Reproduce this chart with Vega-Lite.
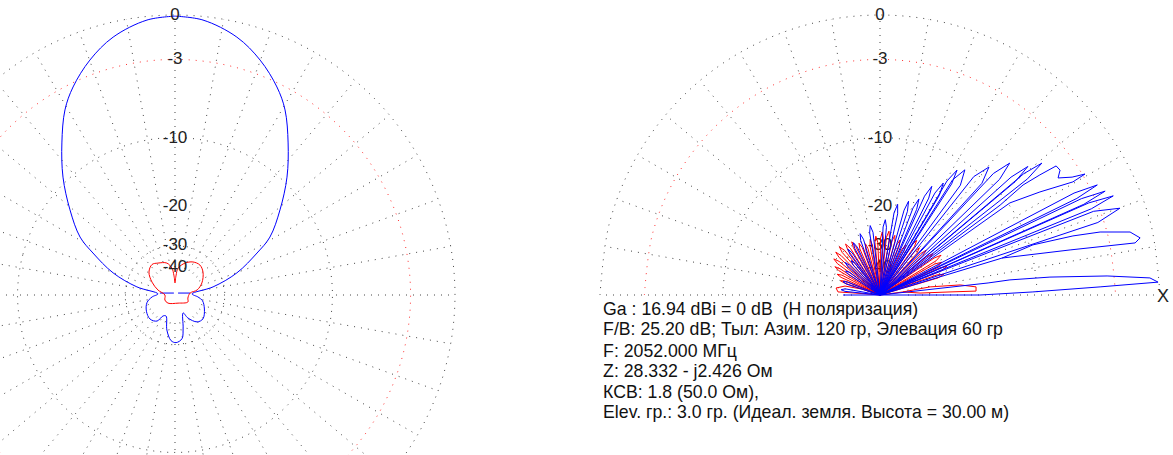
{
  "$schema": "https://vega.github.io/schema/vega-lite/v6.json",
  "padding": 0,
  "spacing": 130,
  "background": "white",
  "config": {"view": {"stroke": null}, "text": {"font": "Liberation Sans"}},
  "datasets": {
    "grid": [
      {"ring":"c0","k":0,"x":-1,"y":0},{"ring":"c0","k":1,"x":-0.9659,"y":0.2588},{"ring":"c0","k":2,"x":-0.866,"y":0.5},{"ring":"c0","k":3,"x":-0.7071,"y":0.7071},{"ring":"c0","k":4,"x":-0.5,"y":0.866},{"ring":"c0","k":5,"x":-0.2588,"y":0.9659},{"ring":"c0","k":6,"x":0,"y":1},{"ring":"c0","k":7,"x":0.2588,"y":0.9659},{"ring":"c0","k":8,"x":0.5,"y":0.866},{"ring":"c0","k":9,"x":0.7071,"y":0.7071},{"ring":"c0","k":10,"x":0.866,"y":0.5},{"ring":"c0","k":11,"x":0.9659,"y":0.2588},{"ring":"c0","k":12,"x":1,"y":0},{"ring":"c0","k":13,"x":0.9659,"y":-0.2588},{"ring":"c0","k":14,"x":0.866,"y":-0.5},{"ring":"c0","k":15,"x":0.7071,"y":-0.7071},{"ring":"c0","k":16,"x":0.5,"y":-0.866},{"ring":"c0","k":17,"x":0.2588,"y":-0.9659},{"ring":"c0","k":18,"x":0,"y":-1},{"ring":"c0","k":19,"x":-0.2588,"y":-0.9659},{"ring":"c0","k":20,"x":-0.5,"y":-0.866},{"ring":"c0","k":21,"x":-0.7071,"y":-0.7071},{"ring":"c0","k":22,"x":-0.866,"y":-0.5},{"ring":"c0","k":23,"x":-0.9659,"y":-0.2588},
      {"ring":"c3","k":0,"x":-0.8414,"y":0},{"ring":"c3","k":1,"x":-0.8127,"y":0.2178},{"ring":"c3","k":2,"x":-0.7287,"y":0.4207},{"ring":"c3","k":3,"x":-0.595,"y":0.595},{"ring":"c3","k":4,"x":-0.4207,"y":0.7287},{"ring":"c3","k":5,"x":-0.2178,"y":0.8127},{"ring":"c3","k":6,"x":0,"y":0.8414},{"ring":"c3","k":7,"x":0.2178,"y":0.8127},{"ring":"c3","k":8,"x":0.4207,"y":0.7287},{"ring":"c3","k":9,"x":0.595,"y":0.595},{"ring":"c3","k":10,"x":0.7287,"y":0.4207},{"ring":"c3","k":11,"x":0.8127,"y":0.2178},{"ring":"c3","k":12,"x":0.8414,"y":0},{"ring":"c3","k":13,"x":0.8127,"y":-0.2178},{"ring":"c3","k":14,"x":0.7287,"y":-0.4207},{"ring":"c3","k":15,"x":0.595,"y":-0.595},{"ring":"c3","k":16,"x":0.4207,"y":-0.7287},{"ring":"c3","k":17,"x":0.2178,"y":-0.8127},{"ring":"c3","k":18,"x":0,"y":-0.8414},{"ring":"c3","k":19,"x":-0.2178,"y":-0.8127},{"ring":"c3","k":20,"x":-0.4207,"y":-0.7287},{"ring":"c3","k":21,"x":-0.595,"y":-0.595},{"ring":"c3","k":22,"x":-0.7287,"y":-0.4207},{"ring":"c3","k":23,"x":-0.8127,"y":-0.2178},
      {"ring":"c10","k":0,"x":-0.5623,"y":0},{"ring":"c10","k":1,"x":-0.5431,"y":0.1455},{"ring":"c10","k":2,"x":-0.487,"y":0.2812},{"ring":"c10","k":3,"x":-0.3976,"y":0.3976},{"ring":"c10","k":4,"x":-0.2812,"y":0.487},{"ring":"c10","k":5,"x":-0.1455,"y":0.5431},{"ring":"c10","k":6,"x":0,"y":0.5623},{"ring":"c10","k":7,"x":0.1455,"y":0.5431},{"ring":"c10","k":8,"x":0.2812,"y":0.487},{"ring":"c10","k":9,"x":0.3976,"y":0.3976},{"ring":"c10","k":10,"x":0.487,"y":0.2812},{"ring":"c10","k":11,"x":0.5431,"y":0.1455},{"ring":"c10","k":12,"x":0.5623,"y":0},{"ring":"c10","k":13,"x":0.5431,"y":-0.1455},{"ring":"c10","k":14,"x":0.487,"y":-0.2812},{"ring":"c10","k":15,"x":0.3976,"y":-0.3976},{"ring":"c10","k":16,"x":0.2812,"y":-0.487},{"ring":"c10","k":17,"x":0.1455,"y":-0.5431},{"ring":"c10","k":18,"x":0,"y":-0.5623},{"ring":"c10","k":19,"x":-0.1455,"y":-0.5431},{"ring":"c10","k":20,"x":-0.2812,"y":-0.487},{"ring":"c10","k":21,"x":-0.3976,"y":-0.3976},{"ring":"c10","k":22,"x":-0.487,"y":-0.2812},{"ring":"c10","k":23,"x":-0.5431,"y":-0.1455},
      {"ring":"c30","k":0,"x":-0.1778,"y":0},{"ring":"c30","k":1,"x":-0.1717,"y":0.046},{"ring":"c30","k":2,"x":-0.154,"y":0.0889},{"ring":"c30","k":3,"x":-0.1257,"y":0.1257},{"ring":"c30","k":4,"x":-0.0889,"y":0.154},{"ring":"c30","k":5,"x":-0.046,"y":0.1717},{"ring":"c30","k":6,"x":0,"y":0.1778},{"ring":"c30","k":7,"x":0.046,"y":0.1717},{"ring":"c30","k":8,"x":0.0889,"y":0.154},{"ring":"c30","k":9,"x":0.1257,"y":0.1257},{"ring":"c30","k":10,"x":0.154,"y":0.0889},{"ring":"c30","k":11,"x":0.1717,"y":0.046},{"ring":"c30","k":12,"x":0.1778,"y":0},{"ring":"c30","k":13,"x":0.1717,"y":-0.046},{"ring":"c30","k":14,"x":0.154,"y":-0.0889},{"ring":"c30","k":15,"x":0.1257,"y":-0.1257},{"ring":"c30","k":16,"x":0.0889,"y":-0.154},{"ring":"c30","k":17,"x":0.046,"y":-0.1717},{"ring":"c30","k":18,"x":0,"y":-0.1778},{"ring":"c30","k":19,"x":-0.046,"y":-0.1717},{"ring":"c30","k":20,"x":-0.0889,"y":-0.154},{"ring":"c30","k":21,"x":-0.1257,"y":-0.1257},{"ring":"c30","k":22,"x":-0.154,"y":-0.0889},{"ring":"c30","k":23,"x":-0.1717,"y":-0.046}
    ],
    "radial": [
      {"x":0,"y":0.1,"x2":0,"y2":1},{"x":0.017,"y":0.098,"x2":0.174,"y2":0.985},{"x":0.034,"y":0.094,"x2":0.342,"y2":0.94},{"x":0.05,"y":0.087,"x2":0.5,"y2":0.866},{"x":0.064,"y":0.077,"x2":0.643,"y2":0.766},{"x":0.077,"y":0.064,"x2":0.766,"y2":0.643},{"x":0.087,"y":0.05,"x2":0.866,"y2":0.5},{"x":0.094,"y":0.034,"x2":0.94,"y2":0.342},{"x":0.098,"y":0.017,"x2":0.985,"y2":0.174},
      {"x":0.1,"y":0,"x2":1,"y2":0},{"x":0.098,"y":-0.017,"x2":0.985,"y2":-0.174},{"x":0.094,"y":-0.034,"x2":0.94,"y2":-0.342},{"x":0.087,"y":-0.05,"x2":0.866,"y2":-0.5},{"x":0.077,"y":-0.064,"x2":0.766,"y2":-0.643},{"x":0.064,"y":-0.077,"x2":0.643,"y2":-0.766},{"x":0.05,"y":-0.087,"x2":0.5,"y2":-0.866},{"x":0.034,"y":-0.094,"x2":0.342,"y2":-0.94},{"x":0.017,"y":-0.098,"x2":0.174,"y2":-0.985},
      {"x":0,"y":-0.1,"x2":0,"y2":-1},{"x":-0.017,"y":-0.098,"x2":-0.174,"y2":-0.985},{"x":-0.034,"y":-0.094,"x2":-0.342,"y2":-0.94},{"x":-0.05,"y":-0.087,"x2":-0.5,"y2":-0.866},{"x":-0.064,"y":-0.077,"x2":-0.643,"y2":-0.766},{"x":-0.077,"y":-0.064,"x2":-0.766,"y2":-0.643},{"x":-0.087,"y":-0.05,"x2":-0.866,"y2":-0.5},{"x":-0.094,"y":-0.034,"x2":-0.94,"y2":-0.342},{"x":-0.098,"y":-0.017,"x2":-0.985,"y2":-0.174},
      {"x":-0.1,"y":0,"x2":-1,"y2":0},{"x":-0.098,"y":0.017,"x2":-0.985,"y2":0.174},{"x":-0.094,"y":0.034,"x2":-0.94,"y2":0.342},{"x":-0.087,"y":0.05,"x2":-0.866,"y2":0.5},{"x":-0.077,"y":0.064,"x2":-0.766,"y2":0.643},{"x":-0.064,"y":0.077,"x2":-0.643,"y2":0.766},{"x":-0.05,"y":0.087,"x2":-0.5,"y2":0.866},{"x":-0.034,"y":0.094,"x2":-0.342,"y2":0.94},{"x":-0.017,"y":0.098,"x2":-0.174,"y2":0.985}
    ],
    "labels": [
      {"t":"0","x":0,"y":1},{"t":"-3","x":0,"y":0.8414},{"t":"-10","x":0,"y":0.5623},{"t":"-20","x":0,"y":0.3162},{"t":"-30","x":0,"y":0.1778},{"t":"-40","x":0,"y":0.1}
    ],
    "lpat": [
      {"c":"b","k":0,"x":0,"y":0.996},{"c":"b","k":1,"x":0.1,"y":0.982},{"c":"b","k":2,"x":0.221,"y":0.921},{"c":"b","k":3,"x":0.304,"y":0.839},{"c":"b","k":4,"x":0.364,"y":0.743},{"c":"b","k":5,"x":0.393,"y":0.661},{"c":"b","k":6,"x":0.404,"y":0.543},{"c":"b","k":7,"x":0.4,"y":0.421},{"c":"b","k":8,"x":0.375,"y":0.304},{"c":"b","k":9,"x":0.339,"y":0.207},{"c":"b","k":10,"x":0.293,"y":0.15},{"c":"b","k":11,"x":0.221,"y":0.079},{"c":"b","k":12,"x":0.136,"y":0.029},{"c":"b","k":13,"x":0.061,"y":0.004},{"c":"b","k":14,"x":0.082,"y":-0.007},{"c":"b","k":15,"x":0.098,"y":-0.02},{"c":"b","k":16,"x":0.105,"y":-0.05},{"c":"b","k":17,"x":0.1,"y":-0.085},{"c":"b","k":18,"x":0.079,"y":-0.096},{"c":"b","k":19,"x":0.046,"y":-0.082},{"c":"b","k":20,"x":0.029,"y":-0.064},{"c":"b","k":21,"x":0.029,"y":-0.118},{"c":"b","k":22,"x":0.025,"y":-0.156},{"c":"b","k":23,"x":0.004,"y":-0.17},{"c":"b","k":24,"x":-0.014,"y":-0.163},{"c":"b","k":25,"x":-0.029,"y":-0.125},{"c":"b","k":26,"x":-0.032,"y":-0.075},{"c":"b","k":27,"x":-0.043,"y":-0.075},{"c":"b","k":28,"x":-0.064,"y":-0.093},{"c":"b","k":29,"x":-0.089,"y":-0.086},{"c":"b","k":30,"x":-0.102,"y":-0.058},{"c":"b","k":31,"x":-0.1,"y":-0.027},{"c":"b","k":32,"x":-0.082,"y":-0.007},{"c":"b","k":33,"x":-0.061,"y":0.004},{"c":"b","k":34,"x":-0.136,"y":0.029},{"c":"b","k":35,"x":-0.221,"y":0.079},{"c":"b","k":36,"x":-0.293,"y":0.15},{"c":"b","k":37,"x":-0.339,"y":0.207},{"c":"b","k":38,"x":-0.375,"y":0.304},{"c":"b","k":39,"x":-0.4,"y":0.421},{"c":"b","k":40,"x":-0.404,"y":0.543},{"c":"b","k":41,"x":-0.393,"y":0.661},{"c":"b","k":42,"x":-0.364,"y":0.743},{"c":"b","k":43,"x":-0.304,"y":0.839},{"c":"b","k":44,"x":-0.221,"y":0.921},{"c":"b","k":45,"x":-0.1,"y":0.982},{"c":"b","k":46,"x":0,"y":0.996},
      {"c":"r","k":0,"x":0,"y":0.043},{"c":"r","k":1,"x":0.004,"y":0.071},{"c":"r","k":2,"x":0.011,"y":0.096},{"c":"r","k":3,"x":0.036,"y":0.114},{"c":"r","k":4,"x":0.064,"y":0.118},{"c":"r","k":5,"x":0.089,"y":0.107},{"c":"r","k":6,"x":0.1,"y":0.082},{"c":"r","k":7,"x":0.096,"y":0.043},{"c":"r","k":8,"x":0.079,"y":0.018},{"c":"r","k":9,"x":0.054,"y":0.007},{"c":"r","k":10,"x":0.046,"y":-0.011},{"c":"r","k":11,"x":0.046,"y":-0.025},{"c":"r","k":12,"x":0.011,"y":-0.029},{"c":"r","k":13,"x":-0.025,"y":-0.029},{"c":"r","k":14,"x":-0.036,"y":-0.018},{"c":"r","k":15,"x":-0.036,"y":0},{"c":"r","k":16,"x":-0.061,"y":0.018},{"c":"r","k":17,"x":-0.082,"y":0.046},{"c":"r","k":18,"x":-0.093,"y":0.082},{"c":"r","k":19,"x":-0.082,"y":0.109},{"c":"r","k":20,"x":-0.061,"y":0.114},{"c":"r","k":21,"x":-0.029,"y":0.114},{"c":"r","k":22,"x":-0.011,"y":0.096},{"c":"r","k":23,"x":-0.004,"y":0.071},{"c":"r","k":24,"x":0,"y":0.043}
    ],
    "lseg": [
      {"x":-0.054,"y":0.007,"x2":-0.004,"y2":0.007},{"x":0.011,"y":0.007,"x2":0.054,"y2":0.007}
    ],
    "rpat": [
      {"c":"b","s":"s1","k":0,"x":-0.132,"y":0},{"c":"b","s":"s1","k":1,"x":0,"y":0},{"c":"b","s":"s1","k":2,"x":0.357,"y":0},{"c":"b","s":"s1","k":3,"x":0.546,"y":0.011},{"c":"b","s":"s1","k":4,"x":0.786,"y":0.029},{"c":"b","s":"s1","k":5,"x":0.993,"y":0.046},{"c":"b","s":"s1","k":6,"x":0.964,"y":0.061},{"c":"b","s":"s1","k":7,"x":0.811,"y":0.068},{"c":"b","s":"s1","k":8,"x":0.607,"y":0.064},{"c":"b","s":"s1","k":9,"x":0.464,"y":0.054},{"c":"b","s":"s1","k":10,"x":0.386,"y":0.043},{"c":"b","s":"s1","k":11,"x":0,"y":0},
      {"c":"b","s":"s2","k":0,"x":0,"y":0},{"c":"b","s":"s2","k":1,"x":0.436,"y":0.132},{"c":"b","s":"s2","k":2,"x":0.546,"y":0.179},{"c":"b","s":"s2","k":3,"x":0.689,"y":0.211},{"c":"b","s":"s2","k":4,"x":0.786,"y":0.225},{"c":"b","s":"s2","k":5,"x":0.893,"y":0.225},{"c":"b","s":"s2","k":6,"x":0.929,"y":0.204},{"c":"b","s":"s2","k":7,"x":0.911,"y":0.186},{"c":"b","s":"s2","k":8,"x":0.679,"y":0.161},{"c":"b","s":"s2","k":9,"x":0.436,"y":0.132},
      {"c":"b","s":"s3","k":0,"x":0,"y":0},{"c":"b","s":"s3","k":1,"x":0.778,"y":0.259},{"c":"b","s":"s3","k":2,"x":0.857,"y":0.31},{"c":"b","s":"s3","k":3,"x":0.763,"y":0.299},{"c":"b","s":"s3","k":4,"x":0,"y":0},
      {"c":"b","s":"s7","k":0,"x":0,"y":0},{"c":"b","s":"s7","k":1,"x":0.464,"y":0.329},{"c":"b","s":"s7","k":2,"x":0.571,"y":0.368},{"c":"b","s":"s7","k":3,"x":0.689,"y":0.404},{"c":"b","s":"s7","k":4,"x":0.732,"y":0.432},{"c":"b","s":"s7","k":5,"x":0.686,"y":0.421},{"c":"b","s":"s7","k":6,"x":0.636,"y":0.418},{"c":"b","s":"s7","k":7,"x":0.643,"y":0.446},{"c":"b","s":"s7","k":8,"x":0.629,"y":0.461},{"c":"b","s":"s7","k":9,"x":0.571,"y":0.429},{"c":"b","s":"s7","k":10,"x":0.511,"y":0.393},{"c":"b","s":"s7","k":11,"x":0.429,"y":0.321},{"c":"b","s":"s7","k":12,"x":0,"y":0},
      {"c":"b","s":"b1","k":0,"x":0,"y":0},{"c":"b","s":"b1","k":1,"x":0.703,"y":0.345},{"c":"b","s":"b1","k":2,"x":0.776,"y":0.393},{"c":"b","s":"b1","k":3,"x":0.693,"y":0.364},{"c":"b","s":"b1","k":4,"x":0,"y":0},
      {"c":"b","s":"b2","k":0,"x":0,"y":0},{"c":"b","s":"b2","k":1,"x":0.728,"y":0.324},{"c":"b","s":"b2","k":2,"x":0.804,"y":0.371},{"c":"b","s":"b2","k":3,"x":0.719,"y":0.344},{"c":"b","s":"b2","k":4,"x":0,"y":0},
      {"c":"b","s":"b3","k":0,"x":0,"y":0},{"c":"b","s":"b3","k":1,"x":0.755,"y":0.308},{"c":"b","s":"b3","k":2,"x":0.833,"y":0.354},{"c":"b","s":"b3","k":3,"x":0.746,"y":0.329},{"c":"b","s":"b3","k":4,"x":0,"y":0},
      {"c":"b","s":"b4","k":0,"x":0,"y":0},{"c":"b","s":"b4","k":1,"x":0.527,"y":0.415},{"c":"b","s":"b4","k":2,"x":0.578,"y":0.471},{"c":"b","s":"b4","k":3,"x":0.513,"y":0.433},{"c":"b","s":"b4","k":4,"x":0,"y":0},
      {"c":"b","s":"b5","k":0,"x":0,"y":0},{"c":"b","s":"b5","k":1,"x":0.483,"y":0.405},{"c":"b","s":"b5","k":2,"x":0.528,"y":0.459},{"c":"b","s":"b5","k":3,"x":0.468,"y":0.421},{"c":"b","s":"b5","k":4,"x":0,"y":0},
      {"c":"b","s":"b6","k":0,"x":0,"y":0},{"c":"b","s":"b6","k":1,"x":0.427,"y":0.413},{"c":"b","s":"b6","k":2,"x":0.463,"y":0.471},{"c":"b","s":"b6","k":3,"x":0.405,"y":0.434},{"c":"b","s":"b6","k":4,"x":0,"y":0},
      {"c":"b","s":"b7","k":0,"x":0,"y":0},{"c":"b","s":"b7","k":1,"x":0.364,"y":0.399},{"c":"b","s":"b7","k":2,"x":0.389,"y":0.457},{"c":"b","s":"b7","k":3,"x":0.335,"y":0.423},{"c":"b","s":"b7","k":4,"x":0,"y":0},
      {"c":"b","s":"b8","k":0,"x":0,"y":0},{"c":"b","s":"b8","k":1,"x":0.287,"y":0.392},{"c":"b","s":"b8","k":2,"x":0.303,"y":0.447},{"c":"b","s":"b8","k":3,"x":0.259,"y":0.411},{"c":"b","s":"b8","k":4,"x":0,"y":0},
      {"c":"b","s":"b8b","k":0,"x":0,"y":0},{"c":"b","s":"b8b","k":1,"x":0.256,"y":0.397},{"c":"b","s":"b8b","k":2,"x":0.275,"y":0.446},{"c":"b","s":"b8b","k":3,"x":0.239,"y":0.407},{"c":"b","s":"b8b","k":4,"x":0,"y":0},
      {"c":"b","s":"b9","k":0,"x":0,"y":0},{"c":"b","s":"b9","k":1,"x":0.212,"y":0.356},{"c":"b","s":"b9","k":2,"x":0.226,"y":0.4},{"c":"b","s":"b9","k":3,"x":0.196,"y":0.364},{"c":"b","s":"b9","k":4,"x":0,"y":0},
      {"c":"b","s":"b10","k":0,"x":0,"y":0},{"c":"b","s":"b10","k":1,"x":0.174,"y":0.346},{"c":"b","s":"b10","k":2,"x":0.185,"y":0.388},{"c":"b","s":"b10","k":3,"x":0.159,"y":0.353},{"c":"b","s":"b10","k":4,"x":0,"y":0},
      {"c":"b","s":"b11","k":0,"x":0,"y":0},{"c":"b","s":"b11","k":1,"x":0.131,"y":0.306},{"c":"b","s":"b11","k":2,"x":0.139,"y":0.343},{"c":"b","s":"b11","k":3,"x":0.118,"y":0.311},{"c":"b","s":"b11","k":4,"x":0,"y":0},
      {"c":"b","s":"b12","k":0,"x":0,"y":0},{"c":"b","s":"b12","k":1,"x":0.098,"y":0.299},{"c":"b","s":"b12","k":2,"x":0.102,"y":0.335},{"c":"b","s":"b12","k":3,"x":0.086,"y":0.303},{"c":"b","s":"b12","k":4,"x":0,"y":0},
      {"c":"b","s":"b13","k":0,"x":0,"y":0},{"c":"b","s":"b13","k":1,"x":0.063,"y":0.29},{"c":"b","s":"b13","k":2,"x":0.063,"y":0.324},{"c":"b","s":"b13","k":3,"x":0.05,"y":0.293},{"c":"b","s":"b13","k":4,"x":0,"y":0},
      {"c":"b","s":"b14","k":0,"x":0,"y":0},{"c":"b","s":"b14","k":1,"x":0.023,"y":0.242},{"c":"b","s":"b14","k":2,"x":0.019,"y":0.269},{"c":"b","s":"b14","k":3,"x":0.011,"y":0.243},{"c":"b","s":"b14","k":4,"x":0,"y":0},
      {"c":"b","s":"b15","k":0,"x":0,"y":0},{"c":"b","s":"b15","k":1,"x":-0.025,"y":0.224},{"c":"b","s":"b15","k":2,"x":-0.035,"y":0.248},{"c":"b","s":"b15","k":3,"x":-0.037,"y":0.222},{"c":"b","s":"b15","k":4,"x":0,"y":0},
      {"c":"b","s":"b16","k":0,"x":0,"y":0},{"c":"b","s":"b16","k":1,"x":-0.059,"y":0.199},{"c":"b","s":"b16","k":2,"x":-0.071,"y":0.219},{"c":"b","s":"b16","k":3,"x":-0.069,"y":0.195},{"c":"b","s":"b16","k":4,"x":0,"y":0},
      {"c":"b","s":"b17","k":0,"x":0,"y":0},{"c":"b","s":"b17","k":1,"x":-0.081,"y":0.171},{"c":"b","s":"b17","k":2,"x":-0.095,"y":0.187},{"c":"b","s":"b17","k":3,"x":-0.09,"y":0.166},{"c":"b","s":"b17","k":4,"x":0,"y":0},
      {"c":"b","s":"b22","k":0,"x":0,"y":0},{"c":"b","s":"b22","k":1,"x":-0.099,"y":0.15},{"c":"b","s":"b22","k":2,"x":-0.115,"y":0.164},{"c":"b","s":"b22","k":3,"x":-0.107,"y":0.145},{"c":"b","s":"b22","k":4,"x":0,"y":0},
      {"c":"b","s":"b18","k":0,"x":0,"y":0},{"c":"b","s":"b18","k":1,"x":-0.089,"y":0.113},{"c":"b","s":"b18","k":2,"x":-0.103,"y":0.123},{"c":"b","s":"b18","k":3,"x":-0.096,"y":0.107},{"c":"b","s":"b18","k":4,"x":0,"y":0},
      {"c":"b","s":"b23","k":0,"x":0,"y":0},{"c":"b","s":"b23","k":1,"x":-0.109,"y":0.107},{"c":"b","s":"b23","k":2,"x":-0.124,"y":0.116},{"c":"b","s":"b23","k":3,"x":-0.115,"y":0.101},{"c":"b","s":"b23","k":4,"x":0,"y":0},
      {"c":"b","s":"b19","k":0,"x":0,"y":0},{"c":"b","s":"b19","k":1,"x":-0.108,"y":0.081},{"c":"b","s":"b19","k":2,"x":-0.123,"y":0.086},{"c":"b","s":"b19","k":3,"x":-0.113,"y":0.074},{"c":"b","s":"b19","k":4,"x":0,"y":0},
      {"c":"b","s":"b20","k":0,"x":0,"y":0},{"c":"b","s":"b20","k":1,"x":-0.117,"y":0.047},{"c":"b","s":"b20","k":2,"x":-0.132,"y":0.048},{"c":"b","s":"b20","k":3,"x":-0.12,"y":0.039},{"c":"b","s":"b20","k":4,"x":0,"y":0},
      {"c":"b","s":"b21","k":0,"x":0,"y":0},{"c":"b","s":"b21","k":1,"x":-0.124,"y":0.022},{"c":"b","s":"b21","k":2,"x":-0.139,"y":0.019},{"c":"b","s":"b21","k":3,"x":-0.125,"y":0.013},{"c":"b","s":"b21","k":4,"x":0,"y":0},
      {"c":"r","s":"r1","k":0,"x":0,"y":0},{"c":"r","s":"r1","k":1,"x":0.207,"y":0.061},{"c":"r","s":"r1","k":2,"x":0.228,"y":0.074},{"c":"r","s":"r1","k":3,"x":0.204,"y":0.072},{"c":"r","s":"r1","k":4,"x":0,"y":0},
      {"c":"r","s":"r2","k":0,"x":0,"y":0},{"c":"r","s":"r2","k":1,"x":0.218,"y":0.086},{"c":"r","s":"r2","k":2,"x":0.239,"y":0.102},{"c":"r","s":"r2","k":3,"x":0.213,"y":0.097},{"c":"r","s":"r2","k":4,"x":0,"y":0},
      {"c":"r","s":"r3","k":0,"x":0,"y":0},{"c":"r","s":"r3","k":1,"x":0.201,"y":0.1},{"c":"r","s":"r3","k":2,"x":0.221,"y":0.117},{"c":"r","s":"r3","k":3,"x":0.196,"y":0.111},{"c":"r","s":"r3","k":4,"x":0,"y":0},
      {"c":"r","s":"r4","k":0,"x":0,"y":0},{"c":"r","s":"r4","k":1,"x":0.2,"y":0.122},{"c":"r","s":"r4","k":2,"x":0.218,"y":0.142},{"c":"r","s":"r4","k":3,"x":0.193,"y":0.132},{"c":"r","s":"r4","k":4,"x":0,"y":0},
      {"c":"r","s":"r5","k":0,"x":0,"y":0},{"c":"r","s":"r5","k":1,"x":0.174,"y":0.129},{"c":"r","s":"r5","k":2,"x":0.189,"y":0.148},{"c":"r","s":"r5","k":3,"x":0.167,"y":0.137},{"c":"r","s":"r5","k":4,"x":0,"y":0},
      {"c":"r","s":"r6","k":0,"x":0,"y":0},{"c":"r","s":"r6","k":1,"x":0.153,"y":0.14},{"c":"r","s":"r6","k":2,"x":0.165,"y":0.16},{"c":"r","s":"r6","k":3,"x":0.145,"y":0.148},{"c":"r","s":"r6","k":4,"x":0,"y":0},
      {"c":"r","s":"r7","k":0,"x":0,"y":0},{"c":"r","s":"r7","k":1,"x":0.131,"y":0.148},{"c":"r","s":"r7","k":2,"x":0.141,"y":0.169},{"c":"r","s":"r7","k":3,"x":0.123,"y":0.155},{"c":"r","s":"r7","k":4,"x":0,"y":0},
      {"c":"r","s":"r8","k":0,"x":0,"y":0},{"c":"r","s":"r8","k":1,"x":0.123,"y":0.173},{"c":"r","s":"r8","k":2,"x":0.131,"y":0.195},{"c":"r","s":"r8","k":3,"x":0.114,"y":0.179},{"c":"r","s":"r8","k":4,"x":0,"y":0},
      {"c":"r","s":"r9","k":0,"x":0,"y":0},{"c":"r","s":"r9","k":1,"x":0.086,"y":0.158},{"c":"r","s":"r9","k":2,"x":0.091,"y":0.178},{"c":"r","s":"r9","k":3,"x":0.078,"y":0.163},{"c":"r","s":"r9","k":4,"x":0,"y":0},
      {"c":"r","s":"r10","k":0,"x":0,"y":0},{"c":"r","s":"r10","k":1,"x":0.069,"y":0.176},{"c":"r","s":"r10","k":2,"x":0.072,"y":0.197},{"c":"r","s":"r10","k":3,"x":0.06,"y":0.179},{"c":"r","s":"r10","k":4,"x":0,"y":0},
      {"c":"r","s":"r11","k":0,"x":0,"y":0},{"c":"r","s":"r11","k":1,"x":0.053,"y":0.191},{"c":"r","s":"r11","k":2,"x":0.053,"y":0.213},{"c":"r","s":"r11","k":3,"x":0.043,"y":0.193},{"c":"r","s":"r11","k":4,"x":0,"y":0},
      {"c":"r","s":"r12","k":0,"x":0,"y":0},{"c":"r","s":"r12","k":1,"x":0.034,"y":0.204},{"c":"r","s":"r12","k":2,"x":0.032,"y":0.228},{"c":"r","s":"r12","k":3,"x":0.023,"y":0.206},{"c":"r","s":"r12","k":4,"x":0,"y":0},
      {"c":"r","s":"r13","k":0,"x":0,"y":0},{"c":"r","s":"r13","k":1,"x":0.012,"y":0.203},{"c":"r","s":"r13","k":2,"x":0.008,"y":0.225},{"c":"r","s":"r13","k":3,"x":0.002,"y":0.203},{"c":"r","s":"r13","k":4,"x":0,"y":0},
      {"c":"r","s":"r14","k":0,"x":0,"y":0},{"c":"r","s":"r14","k":1,"x":-0.008,"y":0.189},{"c":"r","s":"r14","k":2,"x":-0.015,"y":0.21},{"c":"r","s":"r14","k":3,"x":-0.018,"y":0.188},{"c":"r","s":"r14","k":4,"x":0,"y":0},
      {"c":"r","s":"r15","k":0,"x":0,"y":0},{"c":"r","s":"r15","k":1,"x":-0.027,"y":0.178},{"c":"r","s":"r15","k":2,"x":-0.035,"y":0.197},{"c":"r","s":"r15","k":3,"x":-0.036,"y":0.176},{"c":"r","s":"r15","k":4,"x":0,"y":0},
      {"c":"r","s":"r16","k":0,"x":0,"y":0},{"c":"r","s":"r16","k":1,"x":-0.043,"y":0.166},{"c":"r","s":"r16","k":2,"x":-0.052,"y":0.183},{"c":"r","s":"r16","k":3,"x":-0.051,"y":0.163},{"c":"r","s":"r16","k":4,"x":0,"y":0},
      {"c":"r","s":"r17","k":0,"x":0,"y":0},{"c":"r","s":"r17","k":1,"x":-0.063,"y":0.169},{"c":"r","s":"r17","k":2,"x":-0.075,"y":0.185},{"c":"r","s":"r17","k":3,"x":-0.072,"y":0.165},{"c":"r","s":"r17","k":4,"x":0,"y":0},
      {"c":"r","s":"r18","k":0,"x":0,"y":0},{"c":"r","s":"r18","k":1,"x":-0.087,"y":0.174},{"c":"r","s":"r18","k":2,"x":-0.101,"y":0.19},{"c":"r","s":"r18","k":3,"x":-0.095,"y":0.169},{"c":"r","s":"r18","k":4,"x":0,"y":0},
      {"c":"r","s":"r19","k":0,"x":0,"y":0},{"c":"r","s":"r19","k":1,"x":-0.106,"y":0.167},{"c":"r","s":"r19","k":2,"x":-0.123,"y":0.182},{"c":"r","s":"r19","k":3,"x":-0.115,"y":0.161},{"c":"r","s":"r19","k":4,"x":0,"y":0},
      {"c":"r","s":"r20","k":0,"x":0,"y":0},{"c":"r","s":"r20","k":1,"x":-0.126,"y":0.159},{"c":"r","s":"r20","k":2,"x":-0.145,"y":0.172},{"c":"r","s":"r20","k":3,"x":-0.135,"y":0.152},{"c":"r","s":"r20","k":4,"x":0,"y":0},
      {"c":"r","s":"r21","k":0,"x":0,"y":0},{"c":"r","s":"r21","k":1,"x":-0.139,"y":0.141},{"c":"r","s":"r21","k":2,"x":-0.158,"y":0.153},{"c":"r","s":"r21","k":3,"x":-0.146,"y":0.134},{"c":"r","s":"r21","k":4,"x":0,"y":0},
      {"c":"r","s":"r22","k":0,"x":0,"y":0},{"c":"r","s":"r22","k":1,"x":-0.146,"y":0.12},{"c":"r","s":"r22","k":2,"x":-0.165,"y":0.129},{"c":"r","s":"r22","k":3,"x":-0.152,"y":0.112},{"c":"r","s":"r22","k":4,"x":0,"y":0},
      {"c":"r","s":"r23","k":0,"x":0,"y":0},{"c":"r","s":"r23","k":1,"x":-0.143,"y":0.094},{"c":"r","s":"r23","k":2,"x":-0.161,"y":0.101},{"c":"r","s":"r23","k":3,"x":-0.147,"y":0.087},{"c":"r","s":"r23","k":4,"x":0,"y":0},
      {"c":"r","s":"r24","k":0,"x":0,"y":0},{"c":"r","s":"r24","k":1,"x":-0.136,"y":0.071},{"c":"r","s":"r24","k":2,"x":-0.153,"y":0.074},{"c":"r","s":"r24","k":3,"x":-0.139,"y":0.063},{"c":"r","s":"r24","k":4,"x":0,"y":0},
      {"c":"r","s":"r25","k":0,"x":0,"y":0},{"c":"r","s":"r25","k":1,"x":-0.126,"y":0.05},{"c":"r","s":"r25","k":2,"x":-0.141,"y":0.051},{"c":"r","s":"r25","k":3,"x":-0.128,"y":0.043},{"c":"r","s":"r25","k":4,"x":0,"y":0},
      {"c":"r","s":"rl1","k":0,"x":0,"y":0},{"c":"r","s":"rl1","k":1,"x":0.082,"y":0.011},{"c":"r","s":"rl1","k":2,"x":0.179,"y":0.029},{"c":"r","s":"rl1","k":3,"x":0.286,"y":0.036},{"c":"r","s":"rl1","k":4,"x":0.343,"y":0.029},{"c":"r","s":"rl1","k":5,"x":0.343,"y":0.014},{"c":"r","s":"rl1","k":6,"x":0.25,"y":0.011},{"c":"r","s":"rl1","k":7,"x":0.143,"y":0.007},{"c":"r","s":"rl1","k":8,"x":0.082,"y":0.011},
      {"c":"r","s":"rl2","k":0,"x":0,"y":0},{"c":"r","s":"rl2","k":1,"x":-0.064,"y":0.021},{"c":"r","s":"rl2","k":2,"x":-0.125,"y":0.032},{"c":"r","s":"rl2","k":3,"x":-0.157,"y":0.025},{"c":"r","s":"rl2","k":4,"x":-0.15,"y":0.011},{"c":"r","s":"rl2","k":5,"x":-0.089,"y":0.007},{"c":"r","s":"rl2","k":6,"x":0,"y":0}
    ],
    "info": [
      {"t":"Ga : 16.94 dBi = 0 dB\u00a0 (H поляризация)","x":-0.989,"y":-0.054},
      {"t":"F/B: 25.20 dB; Тыл: Азим. 120 гр, Элевация 60 гр","x":-0.989,"y":-0.125},
      {"t":"F: 2052.000 МГц","x":-0.989,"y":-0.204},
      {"t":"Z: 28.332 - j2.426 Ом","x":-0.989,"y":-0.275},
      {"t":"КСВ: 1.8 (50.0 Ом),","x":-0.989,"y":-0.35},
      {"t":"Elev. гр.: 3.0 гр. (Идеал. земля. Высота = 30.00 м)","x":-0.989,"y":-0.421}
    ],
    "axislabel": [
      {"t":"X","x":1.011,"y":-0.007}
    ]
  },
  "hconcat": [
    {
      "width": 460,
      "height": 455,
      "encoding": {
        "x": {"field": "x", "type": "quantitative", "axis": null, "scale": {"domain": [-0.625, 1.0179], "nice": false, "zero": false}},
        "y": {"field": "y", "type": "quantitative", "axis": null, "scale": {"domain": [-0.5714, 1.0536], "nice": false, "zero": false}}
      },
      "layer": [
        {
          "data": {"name": "grid"},
          "transform": [{"filter": "datum.ring != 'c3'"}],
          "mark": {"type": "line", "interpolate": "cardinal-closed", "clip": true, "color": "#444", "strokeWidth": 1, "strokeDash": [1, 6]},
          "encoding": {"detail": {"field": "ring"}, "order": {"field": "k", "type": "quantitative"}}
        },
        {
          "data": {"name": "grid"},
          "transform": [{"filter": "datum.ring == 'c3'"}],
          "mark": {"type": "line", "interpolate": "cardinal-closed", "clip": true, "color": "#ff3030", "strokeWidth": 1, "strokeDash": [1, 6]},
          "encoding": {"order": {"field": "k", "type": "quantitative"}}
        },
        {
          "data": {"name": "radial"},
          "mark": {"type": "rule", "clip": true, "color": "#444", "strokeWidth": 1, "strokeDash": [1, 6]},
          "encoding": {"x2": {"field": "x2"}, "y2": {"field": "y2"}}
        },
        {
          "data": {"name": "lpat"},
          "transform": [{"filter": "datum.c == 'b'"}],
          "mark": {"type": "line", "interpolate": "catmull-rom", "clip": true, "color": "#0000ff", "strokeWidth": 1},
          "encoding": {"order": {"field": "k", "type": "quantitative"}}
        },
        {
          "data": {"name": "lseg"},
          "mark": {"type": "rule", "clip": true, "color": "#0000ff", "strokeWidth": 1},
          "encoding": {"x2": {"field": "x2"}, "y2": {"field": "y2"}}
        },
        {
          "data": {"name": "lpat"},
          "transform": [{"filter": "datum.c == 'r'"}],
          "mark": {"type": "line", "interpolate": "catmull-rom", "clip": true, "color": "#ff0000", "strokeWidth": 1},
          "encoding": {"order": {"field": "k", "type": "quantitative"}}
        },
        {
          "data": {"name": "labels"},
          "mark": {"type": "text", "align": "center", "baseline": "middle", "fontSize": 17, "color": "#222"},
          "encoding": {"text": {"field": "t"}}
        }
      ]
    },
    {
      "width": 583,
      "height": 455,
      "encoding": {
        "x": {"field": "x", "type": "quantitative", "axis": null, "scale": {"domain": [-1.0357, 1.0464], "nice": false, "zero": false}},
        "y": {"field": "y", "type": "quantitative", "axis": null, "scale": {"domain": [-0.5714, 1.0536], "nice": false, "zero": false}}
      },
      "layer": [
        {
          "data": {"name": "grid"},
          "transform": [{"filter": "datum.ring != 'c3' && datum.y > -0.001"}],
          "mark": {"type": "line", "interpolate": "cardinal", "color": "#444", "strokeWidth": 1, "strokeDash": [1, 6]},
          "encoding": {"detail": {"field": "ring"}, "order": {"field": "k", "type": "quantitative"}}
        },
        {
          "data": {"name": "grid"},
          "transform": [{"filter": "datum.ring == 'c3' && datum.y > -0.001"}],
          "mark": {"type": "line", "interpolate": "cardinal", "color": "#ff3030", "strokeWidth": 1, "strokeDash": [1, 6]},
          "encoding": {"order": {"field": "k", "type": "quantitative"}}
        },
        {
          "data": {"name": "radial"},
          "transform": [{"filter": "datum.y2 > -0.001"}],
          "mark": {"type": "rule", "color": "#444", "strokeWidth": 1, "strokeDash": [1, 6]},
          "encoding": {"x2": {"field": "x2"}, "y2": {"field": "y2"}}
        },
        {
          "data": {"name": "labels"},
          "mark": {"type": "text", "align": "center", "baseline": "middle", "fontSize": 17, "color": "#222"},
          "encoding": {"text": {"field": "t"}}
        },
        {
          "data": {"name": "rpat"},
          "transform": [{"filter": "datum.c == 'r'"}],
          "mark": {"type": "line", "color": "#ff0000", "strokeWidth": 1},
          "encoding": {"detail": {"field": "s"}, "order": {"field": "k", "type": "quantitative"}}
        },
        {
          "data": {"name": "rpat"},
          "transform": [{"filter": "datum.c == 'b'"}],
          "mark": {"type": "line", "color": "#0000ff", "strokeWidth": 1},
          "encoding": {"detail": {"field": "s"}, "order": {"field": "k", "type": "quantitative"}}
        },
        {
          "data": {"name": "axislabel"},
          "mark": {"type": "text", "align": "center", "baseline": "middle", "fontSize": 18, "color": "#222"},
          "encoding": {"text": {"field": "t"}}
        },
        {
          "data": {"name": "info"},
          "mark": {"type": "text", "align": "left", "baseline": "middle", "fontSize": 17.7, "color": "#111"},
          "encoding": {"text": {"field": "t"}}
        }
      ]
    }
  ]
}
